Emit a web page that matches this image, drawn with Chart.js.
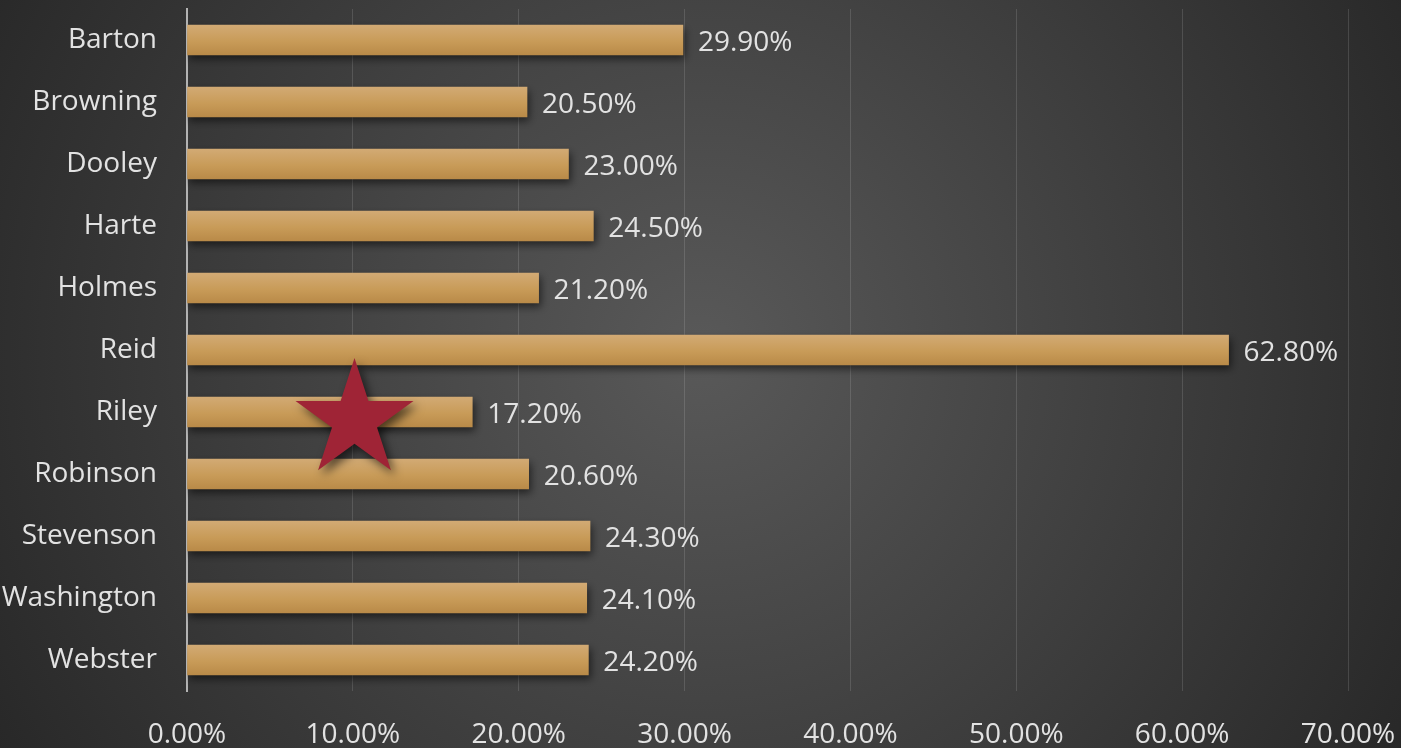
<!DOCTYPE html>
<html>
<head>
<meta charset="utf-8">
<script src="https://cdn.jsdelivr.net/npm/chart.js@4"></script>
<style>
  html, body { margin: 0; padding: 0; background: #2b2b2b; }
  #wrap { width: 1401px; height: 748px; }
</style>
</head>
<body>
<div id="wrap"><canvas id="shareChart"></canvas></div>
<script>
const names = ['Barton', 'Browning', 'Dooley', 'Harte', 'Holmes', 'Reid', 'Riley', 'Robinson', 'Stevenson', 'Washington', 'Webster'];
const shares = [29.9, 20.5, 23.0, 24.5, 21.2, 62.8, 17.2, 20.6, 24.3, 24.1, 24.2];
const xTicks = [0, 10, 20, 30, 40, 50, 60, 70];
// the red star sits near 10% between Riley and Robinson
const starAt = { value: 10.1, category: 6.13 };

const font = 'Open Sans, Noto Sans, sans-serif';
const textColor = '#e2e2e2';

const background = {
  id: 'background',
  beforeDraw(chart) {
    const { ctx, width, height } = chart;
    const g = ctx.createRadialGradient(width * 0.5, height * 0.47, 0, width * 0.5, height * 0.47, width * 0.6);
    g.addColorStop(0, '#595959');
    g.addColorStop(1, '#262626');
    ctx.save();
    ctx.fillStyle = g;
    ctx.fillRect(0, 0, width, height);
    ctx.restore();
  },
};

const barShadow = {
  id: 'barShadow',
  beforeDatasetsDraw(chart) {
    const ctx = chart.ctx;
    ctx.save();
    ctx.shadowColor = 'rgba(0, 0, 0, 0.55)';
    ctx.shadowBlur = 8;
    ctx.shadowOffsetX = 2;
    ctx.shadowOffsetY = 4;
  },
  afterDatasetsDraw(chart) {
    chart.ctx.restore();
  },
};

const valueLabels = {
  id: 'valueLabels',
  afterDatasetsDraw(chart) {
    const ctx = chart.ctx;
    ctx.save();
    ctx.font = `28px ${font}`;
    ctx.fillStyle = textColor;
    ctx.textAlign = 'left';
    ctx.textBaseline = 'middle';
    chart.getDatasetMeta(0).data.forEach((bar, i) => {
      ctx.fillText(shares[i].toFixed(2) + '%', bar.x + 15, bar.y + 3);
    });
    ctx.restore();
  },
};

const star = {
  id: 'star',
  afterDatasetsDraw(chart) {
    const { ctx, scales } = chart;
    const cx = scales.x.getPixelForValue(starAt.value);
    const cy = scales.y.getPixelForValue(starAt.category);
    const outer = 62, inner = outer * 0.382;
    ctx.save();
    ctx.beginPath();
    for (let k = 0; k < 10; k++) {
      const r = k % 2 ? inner : outer;
      const a = -Math.PI / 2 + k * Math.PI / 5;
      const px = cx + r * Math.cos(a), py = cy + r * Math.sin(a);
      k ? ctx.lineTo(px, py) : ctx.moveTo(px, py);
    }
    ctx.closePath();
    ctx.shadowColor = 'rgba(0, 0, 0, 0.6)';
    ctx.shadowBlur = 10;
    ctx.shadowOffsetX = 4;
    ctx.shadowOffsetY = 5;
    ctx.fillStyle = '#9f2436';
    ctx.fill();
    ctx.restore();
  },
};

function barFill(c) {
  const y = c.chart.scales.y;
  const cy = y ? y.getPixelForValue(c.dataIndex) : NaN;
  if (!Number.isFinite(cy)) return '#c69a5a';
  const g = c.chart.ctx.createLinearGradient(0, cy - 15, 0, cy + 15);
  g.addColorStop(0, '#d2aa74');
  g.addColorStop(0.55, '#c89b58');
  g.addColorStop(1, '#b98a48');
  return g;
}

new Chart(document.getElementById('shareChart'), {
  type: 'bar',
  data: {
    labels: names,
    datasets: [{
      data: shares,
      backgroundColor: barFill,
      borderWidth: 0,
      barThickness: 30,
    }],
  },
  options: {
    indexAxis: 'y',
    responsive: true, maintainAspectRatio: false, animation: false,
    layout: { padding: { top: 9, right: 53, left: 0, bottom: 0 } },
    plugins: { legend: { display: false }, tooltip: { enabled: false } },
    scales: {
      x: {
        min: 0, max: 70,
        afterBuildTicks: (s) => { s.ticks = xTicks.map((v) => ({ value: v })); },
        afterFit: (s) => { s.height = 57; s.paddingLeft = 0; s.paddingRight = 0; },
        grid: { color: 'rgba(255, 255, 255, 0.13)', lineWidth: 1, drawTicks: false },
        border: { display: false },
        ticks: { font: { family: font, size: 28 }, color: textColor, padding: 27, maxRotation: 0, callback: (v) => `${Number(v).toFixed(2)}%` },
      },
      y: {
        afterFit: (s) => { s.width = 187; s.paddingTop = 0; s.paddingBottom = 0; },
        grid: { display: false, drawTicks: false },
        border: { display: true, color: '#b3b3b3', width: 2 },
        ticks: { font: { family: font, size: 28 }, color: textColor, padding: 30 },
      },
    },
  },
  plugins: [background, barShadow, valueLabels, star],
});
</script>
</body>
</html>
